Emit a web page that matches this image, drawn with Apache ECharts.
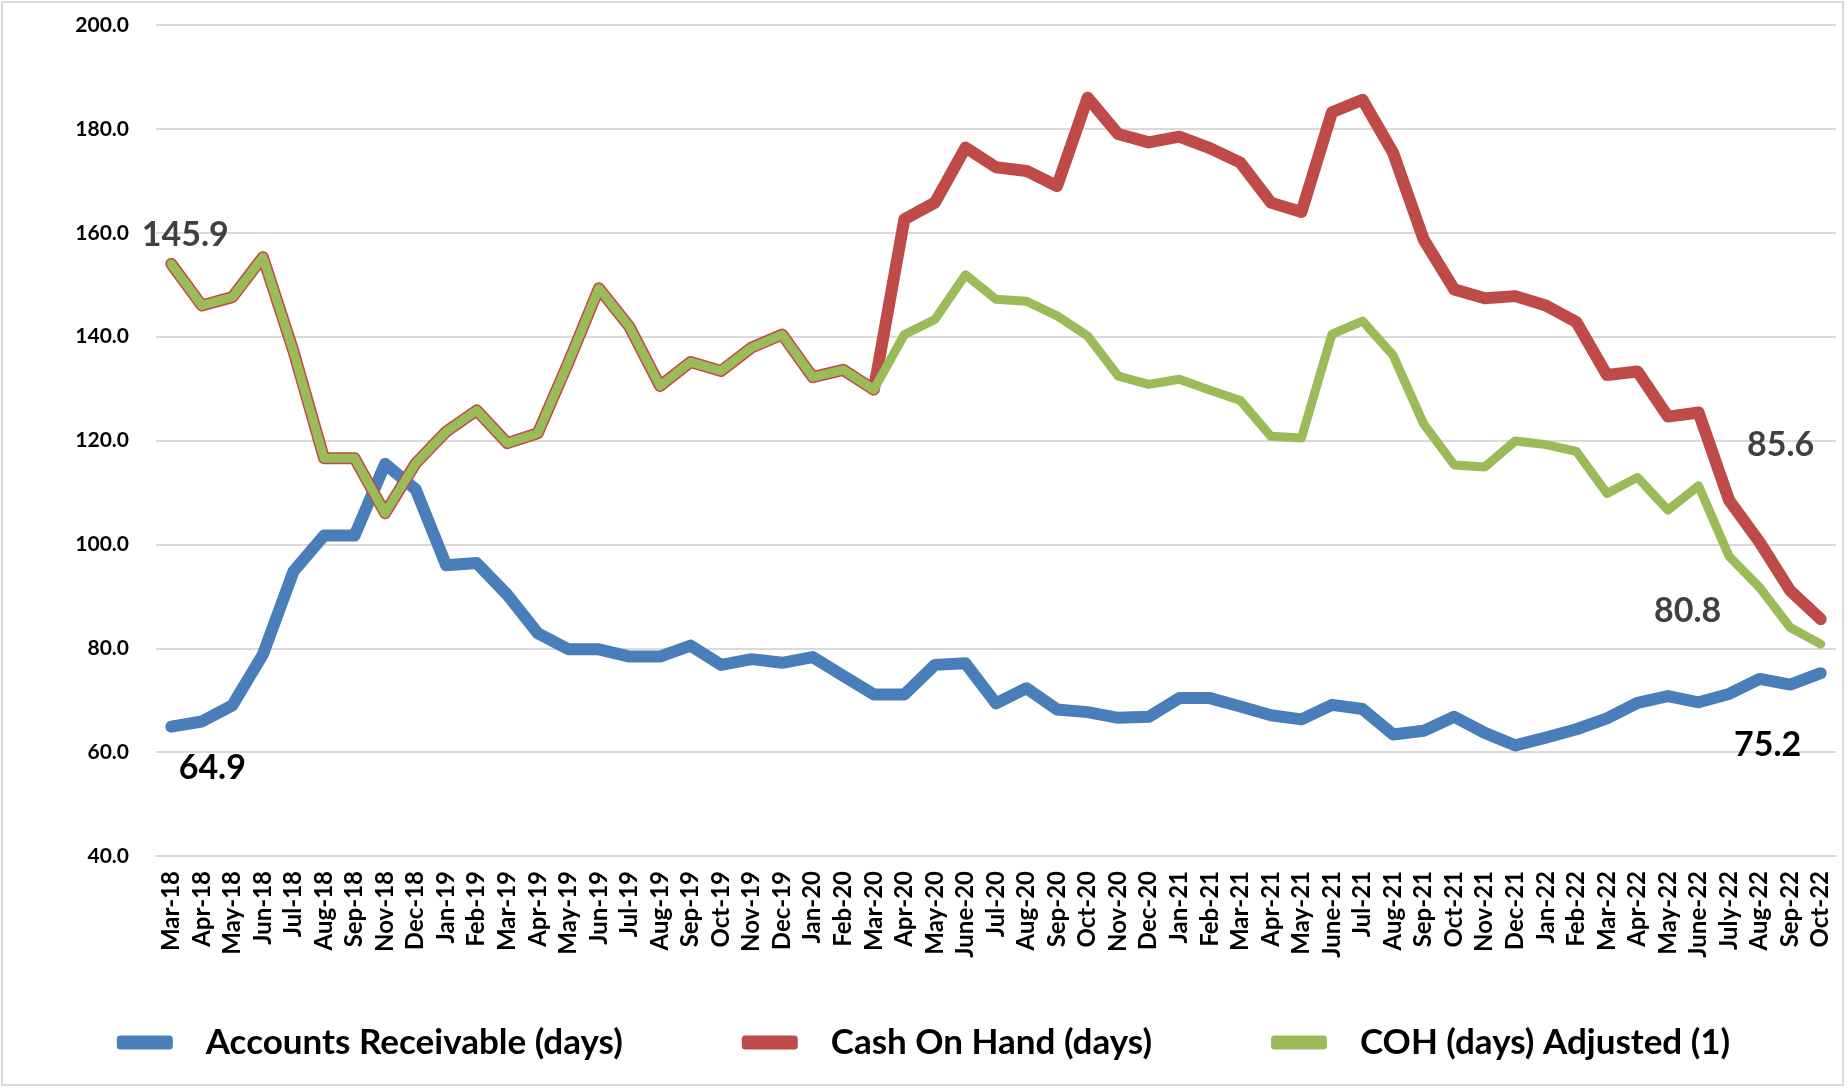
<!DOCTYPE html>
<html>
<head>
<meta charset="utf-8">
<script src="https://cdn.jsdelivr.net/npm/echarts@6/dist/echarts.min.js"></script>
<style>
html,body{margin:0;padding:0;background:#fff;}
#chart{width:1847px;height:1089px;}
</style>
</head>
<body>
<div id="chart"></div>
<script>
var categories = ['Mar-18','Apr-18','May-18','Jun-18','Jul-18','Aug-18','Sep-18','Nov-18','Dec-18',
'Jan-19','Feb-19','Mar-19','Apr-19','May-19','Jun-19','Jul-19','Aug-19','Sep-19','Oct-19','Nov-19','Dec-19',
'Jan-20','Feb-20','Mar-20','Apr-20','May-20','June-20','Jul-20','Aug-20','Sep-20','Oct-20','Nov-20','Dec-20',
'Jan-21','Feb-21','Mar-21','Apr-21','May-21','June-21','Jul-21','Aug-21','Sep-21','Oct-21','Nov-21','Dec-21',
'Jan-22','Feb-22','Mar-22','Apr-22','May-22','June-22','July-22','Aug-22','Sep-22','Oct-22'];

var accountsReceivable = [64.9,65.9,69.0,78.8,94.8,101.7,101.7,115.5,110.6,
96.0,96.4,90.3,82.9,79.8,79.8,78.4,78.4,80.5,76.8,77.9,77.2,
78.3,74.7,71.1,71.1,76.8,77.1,69.4,72.3,68.2,67.7,66.6,66.8,
70.4,70.4,68.8,67.1,66.3,69.1,68.3,63.4,64.1,66.8,63.7,61.3,
62.8,64.4,66.5,69.5,70.8,69.6,71.2,74.1,73.0,75.2];

var cashOnHand = [154.0,146.0,147.6,155.3,137.2,116.6,116.6,106.0,115.6,
121.7,125.8,119.5,121.4,135.0,149.3,141.9,130.5,135.1,133.4,137.9,140.4,
132.2,133.6,129.8,162.6,165.8,176.4,172.6,171.9,169.0,186.0,179.0,177.4,
178.5,176.3,173.5,165.8,164.0,183.2,185.6,175.4,158.7,149.1,147.4,147.8,
146.0,142.8,132.6,133.3,124.6,125.4,108.5,100.4,91.1,85.6];

var cohAdjusted = [154.0,146.0,147.6,155.3,137.2,116.6,116.6,106.0,115.6,
121.7,125.8,119.5,121.4,135.0,149.3,141.9,130.5,135.1,133.4,137.9,140.4,
132.2,133.6,129.8,140.4,143.3,151.9,147.2,146.8,144.0,140.1,132.4,130.8,
131.8,129.7,127.7,120.8,120.5,140.5,143.0,136.4,123.2,115.3,114.9,119.9,
119.2,117.9,109.8,112.9,106.6,111.3,97.7,91.7,84.0,80.8];

var seriesNames = ['Accounts Receivable (days)','Cash On Hand (days)','COH (days) Adjusted (1)'];
var yTicks = [40,60,80,100,120,140,160,180,200];

// callout texts shown on the chart: [series, category index, text]
var callouts = [
  ['cashOnHand', 0, '145.9'],
  ['accountsReceivable', 0, '64.9'],
  ['accountsReceivable', 54, '75.2'],
  ['cashOnHand', 54, '85.6'],
  ['cohAdjusted', 54, '80.8']
];

var FONT = 'Lato, "Open Sans", sans-serif';
var seriesData = {accountsReceivable: accountsReceivable, cashOnHand: cashOnHand, cohAdjusted: cohAdjusted};
var calloutStyle = {
  '145.9': {offset:[14,-29], color:'#404040'},
  '64.9':  {offset:[41,41], color:'#000000'},
  '75.2':  {offset:[-53,72], color:'#000000'},
  '85.6':  {offset:[-40,-174], color:'#404040'},
  '80.8':  {offset:[-133,-33], color:'#404040'}
};
function markPointsFor(key){
  return callouts.filter(function(c){return c[0]===key;}).map(function(c){
    var st = calloutStyle[c[2]];
    return {
      coord:[c[1], seriesData[key][c[1]]],
      symbolSize:0,
      label:{show:true, formatter:c[2], offset:st.offset, color:st.color,
        fontFamily:FONT, fontWeight:'bold', fontSize:34}
    };
  });
}

var chart = echarts.init(document.getElementById('chart'));
var option = {
  animation:false,
  backgroundColor:'#ffffff',
  graphic:[{type:'rect', shape:{x:2, y:2, width:1841, height:1083},
    style:{fill:'none', stroke:'#d9d9d9', lineWidth:2}, silent:true}],
  grid:{left:156, right:11, top:25, bottom:233, containLabel:false},
  legend:{
    bottom:24, left:'center',
    itemWidth:56, itemHeight:14, itemGap:119,
    icon:'roundRect',
    textStyle:{fontFamily:FONT, fontWeight:'bold', fontSize:35, color:'#000', padding:[0,0,0,28]},
    data:seriesNames
  },
  xAxis:{
    type:'category', data:categories, boundaryGap:true,
    axisLine:{show:true, lineStyle:{color:'#d9d9d9', width:2}},
    axisTick:{show:false},
    axisLabel:{interval:0, rotate:90, margin:15, fontFamily:FONT, fontWeight:'bold', fontSize:24, color:'#000', hideOverlap:false}
  },
  yAxis:{
    type:'value', min:yTicks[0], max:yTicks[yTicks.length-1], interval:20,
    axisLine:{show:false}, axisTick:{show:false},
    splitLine:{lineStyle:{color:'#d9d9d9', width:2}},
    axisLabel:{margin:27, fontFamily:FONT, fontWeight:'bold', fontSize:21, color:'#000',
      formatter:function(v){return v.toFixed(1);}}
  },
  series:[
    {name:seriesNames[0], type:'line', data:accountsReceivable, symbol:'none',
      color:'#4A7EBB',
      lineStyle:{width:12, color:'#4A7EBB', cap:'round', join:'round'},
      markPoint:{symbol:'circle', data:markPointsFor('accountsReceivable')}},
    {name:seriesNames[1], type:'line', data:cashOnHand, symbol:'none',
      color:'#BE4B48',
      lineStyle:{width:12, color:'#BE4B48', cap:'round', join:'round'},
      markPoint:{symbol:'circle', data:markPointsFor('cashOnHand')}},
    {name:seriesNames[2], type:'line', data:cohAdjusted, symbol:'none',
      color:'#9BBB59',
      lineStyle:{width:9, color:'#9BBB59', cap:'round', join:'round'},
      markPoint:{symbol:'circle', data:markPointsFor('cohAdjusted')}}
  ]
};
chart.setOption(option);
</script>
</body>
</html>
